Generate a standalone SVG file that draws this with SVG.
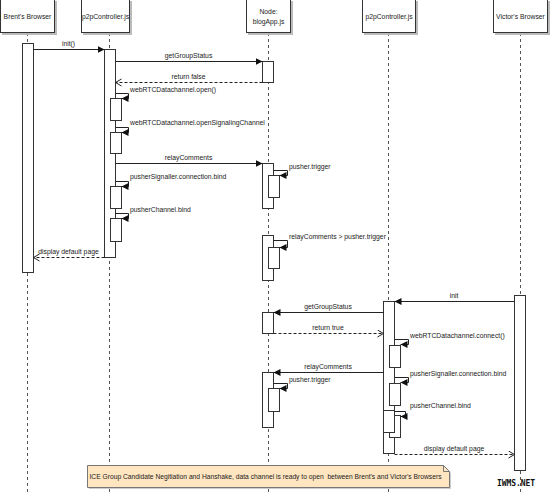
<svg xmlns="http://www.w3.org/2000/svg" width="550" height="495" viewBox="0 0 550 495">
<defs>
<style>
text{font-family:"Liberation Sans",Arial,sans-serif;font-size:6.8px;fill:#222}
.hdr{fill:#fff;stroke:#333;stroke-width:1}
.sh{fill:#bbb}
.life{stroke:#555;stroke-width:1;stroke-dasharray:3,3;fill:none}
.act{fill:#fff;stroke:#333;stroke-width:1}
.msg{stroke:#222;stroke-width:1;fill:none;marker-end:url(#blk)}
.ret{stroke:#222;stroke-width:1;fill:none;stroke-dasharray:3,2;marker-end:url(#opn)}
.mid{text-anchor:middle}
</style>
<marker id="blk" markerUnits="userSpaceOnUse" markerWidth="8" markerHeight="8" refX="7" refY="3.5" orient="auto">
<path d="M0,0 L7,3.5 L0,7 z" fill="#111"/>
</marker>
<marker id="opn" markerUnits="userSpaceOnUse" markerWidth="9" markerHeight="9" refX="7" refY="4" orient="auto">
<path d="M1,0.5 L7,4 L1,7.5" fill="none" stroke="#222" stroke-width="1"/>
</marker>
</defs>
<rect width="550" height="495" fill="#fff"/>

<g id="lifelines">
<path class="life" d="M27.5,33 V495 M109.5,33 V495 M268.5,33 V495 M388.5,33 V495 M520.5,33 V495"/>
</g>

<g id="brent">
<rect class="sh" x="2" y="1" width="55" height="34"/>
<rect class="hdr" x="0.5" y="-1.5" width="54" height="34"/>
<text class="mid" x="27.5" y="19">Brent's Browser</text>
<rect class="act" x="22.5" y="43.5" width="11" height="229"/>
</g>

<g id="p2p1">
<rect class="sh" x="83" y="1" width="49" height="34"/>
<rect class="hdr" x="81.5" y="-1.5" width="48" height="34"/>
<text class="mid" x="105.5" y="19">p2pController.js</text>
<rect class="act" x="104.5" y="49.5" width="11" height="208"/>
<rect class="act" x="110.5" y="98.5" width="11" height="22"/>
<rect class="act" x="110.5" y="132.5" width="11" height="21"/>
<rect class="act" x="110.5" y="186.5" width="11" height="22"/>
<rect class="act" x="110.5" y="218.5" width="11" height="23"/>
</g>

<g id="node">
<rect class="sh" x="248" y="1" width="45" height="34"/>
<rect class="hdr" x="246.5" y="-1.5" width="44" height="34"/>
<text class="mid" x="268.5" y="14">Node:</text>
<text class="mid" x="268.5" y="24">blogApp.js</text>
<rect class="act" x="262.5" y="61.5" width="11" height="21"/>
<rect class="act" x="262.5" y="163.5" width="11" height="45"/>
<rect class="act" x="268.5" y="175.5" width="11" height="22"/>
<rect class="act" x="262.5" y="235.5" width="11" height="45"/>
<rect class="act" x="268.5" y="247.5" width="11" height="21"/>
<rect class="act" x="262.5" y="312.5" width="11" height="21"/>
<rect class="act" x="262.5" y="372.5" width="11" height="55"/>
<rect class="act" x="268.5" y="388.5" width="11" height="23"/>
</g>

<g id="p2p2">
<rect class="sh" x="364" y="1" width="54" height="34"/>
<rect class="hdr" x="362.5" y="-1.5" width="53" height="34"/>
<text class="mid" x="389" y="19">p2pController.js</text>
<rect class="act" x="383.5" y="301.5" width="11" height="152"/>
<rect class="act" x="389.5" y="345.5" width="11" height="22"/>
<rect class="act" x="389.5" y="383.5" width="11" height="22"/>
<rect class="act" x="389.5" y="415.5" width="11" height="22"/>
<rect class="act" x="383.5" y="410.5" width="11" height="22"/>
</g>

<g id="victor">
<rect class="sh" x="495" y="1" width="55" height="34"/>
<rect class="hdr" x="493.5" y="-1.5" width="54" height="34"/>
<text class="mid" x="520.5" y="19">Victor's Browser</text>
<rect class="act" x="514.5" y="295.5" width="11" height="175"/>
</g>

<g id="connectors">
<path class="msg" d="M33.5,49.5 H104.5"/>
<text class="mid" x="68.5" y="46">init()</text>
<path class="msg" d="M115.5,61.5 H262.5"/>
<text class="mid" x="188.5" y="58">getGroupStatus</text>
<path class="ret" d="M262.5,82.5 H115.5"/>
<text class="mid" x="188.5" y="79">return false</text>

<path class="msg" d="M115.5,93.5 H128.5 V98.5 H121.5"/>
<text x="130" y="92">webRTCDatachannel.open()</text>
<path class="msg" d="M115.5,127.5 H128.5 V132.5 H121.5"/>
<text x="130" y="125">webRTCDatachannel.openSignalingChannel</text>

<path class="msg" d="M115.5,163.5 H262.5"/>
<text class="mid" x="188.5" y="160">relayComments</text>
<path class="msg" d="M273.5,170.5 H287.5 V175.5 H279.5"/>
<text x="289" y="169">pusher.trigger</text>

<path class="msg" d="M115.5,181.5 H128.5 V186.5 H121.5"/>
<text x="130" y="179">pusherSignaller.connection.bind</text>
<path class="msg" d="M115.5,213.5 H128.5 V218.5 H121.5"/>
<text x="130" y="212">pusherChannel.bind</text>

<path class="msg" d="M273.5,240.5 H287.5 V247.5 H279.5"/>
<text x="289" y="239">relayComments &gt; pusher.trigger</text>

<path class="ret" d="M104.5,257.5 H33.5"/>
<text class="mid" x="68.5" y="254">display default page</text>

<path class="msg" d="M514.5,301.5 H394.5"/>
<text class="mid" x="454" y="298">init</text>
<path class="msg" d="M383.5,312.5 H273.5"/>
<text class="mid" x="328" y="309">getGroupStatus</text>
<path class="ret" d="M273.5,333.5 H383.5"/>
<text class="mid" x="328" y="330">return true</text>

<path class="msg" d="M394.5,339.5 H408.5 V344.5 H400.5"/>
<text x="410" y="338">webRTCDatachannel.connect()</text>

<path class="msg" d="M383.5,372.5 H273.5"/>
<text class="mid" x="328" y="369">relayComments</text>
<path class="msg" d="M273.5,383.5 H287.5 V388.5 H279.5"/>
<text x="289" y="382">pusher.trigger</text>

<path class="msg" d="M394.5,377.5 H408.5 V382.5 H400.5"/>
<text x="410" y="376">pusherSignaller.connection.bind</text>
<path class="msg" d="M394.5,411.5 H405.5 V416.5 H400.5"/>
<text x="410" y="408">pusherChannel.bind</text>

<path class="ret" d="M394.5,454.5 H514.5"/>
<text class="mid" x="454" y="451">display default page</text>
</g>

<g id="note">
<path d="M89,467 H445 L451,473 V489 H89 Z" fill="#ccc"/>
<path d="M87.5,465.5 H443.5 L449.5,471.5 V487.5 H87.5 Z" fill="#ffe5c0" stroke="#777"/>
<path d="M443.5,465.5 V471.5 H449.5" fill="none" stroke="#777"/>
<text x="89.5" y="479" xml:space="preserve" textLength="352" lengthAdjust="spacingAndGlyphs">ICE Group Candidate Negitiation and Hanshake, data channel is ready to open  between Brent's and Victor's Browsers</text>
</g>

<text x="497" y="486" style="font-family:'DejaVu Sans Mono',monospace;font-weight:bold;font-size:8px;fill:#111" textLength="38">IWMS.NET</text>
</svg>
